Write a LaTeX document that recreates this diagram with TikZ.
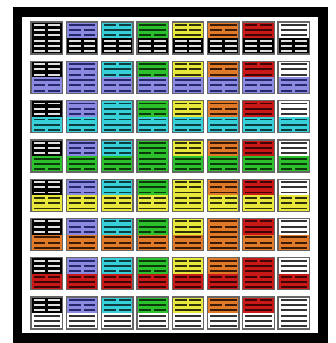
\documentclass[tikz,border=0pt]{standalone}
\definecolor{t0}{HTML}{000000}\definecolor{l0}{HTML}{E0E0E0}
\definecolor{t1}{HTML}{8A8AE0}\definecolor{l1}{HTML}{26266A}
\definecolor{t2}{HTML}{38D0D8}\definecolor{l2}{HTML}{0C3C40}
\definecolor{t3}{HTML}{2CC02C}\definecolor{l3}{HTML}{0A3A0A}
\definecolor{t4}{HTML}{E8E83C}\definecolor{l4}{HTML}{303008}
\definecolor{t5}{HTML}{E07A28}\definecolor{l5}{HTML}{3A1A04}
\definecolor{t6}{HTML}{C81818}\definecolor{l6}{HTML}{400404}
\definecolor{t7}{HTML}{FFFFFF}\definecolor{l7}{HTML}{333333}
\tikzset{
  yaoline/.style={line width=1.9pt},
  cellframe/.style={draw=black!60, line width=1.3pt}
}
\begin{document}
\begin{tikzpicture}[x=1pt,y=-1pt]
\useasboundingbox (0,0) rectangle (335,343);
\fill[white] (0,0) rectangle (335,343);
\fill[black] (13,7) rectangle (328,343);
\fill[white] (22,17) rectangle (318,333);
\foreach \r in {0,...,7}{
 \foreach \c in {0,...,7}{
  \pgfmathsetmacro\x{31+35.3*\c}
  \pgfmathsetmacro\y{22+39.3*\r}
  \fill[t\c] (\x,\y) rectangle ++(31.5,16);
  \fill[t\r] (\x,\y+16) rectangle ++(31.5,16);
  \foreach \k in {0,1,2}{
    \pgfmathtruncatemacro\su{mod(floor(\c/2^\k),2)}
    \pgfmathtruncatemacro\sl{mod(floor(\r/2^\k),2)}
    \pgfmathsetmacro\yu{\y+2.9+5.2*\k}
    \pgfmathsetmacro\yl{\y+18.9+5.2*\k}
    \ifnum\su=1
      \draw[yaoline,l\c] (\x+2.5,\yu) -- (\x+29,\yu);
    \else
      \draw[yaoline,l\c] (\x+2.5,\yu) -- (\x+14.3,\yu) (\x+17.2,\yu) -- (\x+29,\yu);
    \fi
    \ifnum\sl=1
      \draw[yaoline,l\r] (\x+2.5,\yl) -- (\x+29,\yl);
    \else
      \draw[yaoline,l\r] (\x+2.5,\yl) -- (\x+14.3,\yl) (\x+17.2,\yl) -- (\x+29,\yl);
    \fi
  }
  \draw[cellframe] (\x,\y) rectangle ++(31.5,32);
 }
}
\end{tikzpicture}
\end{document}
